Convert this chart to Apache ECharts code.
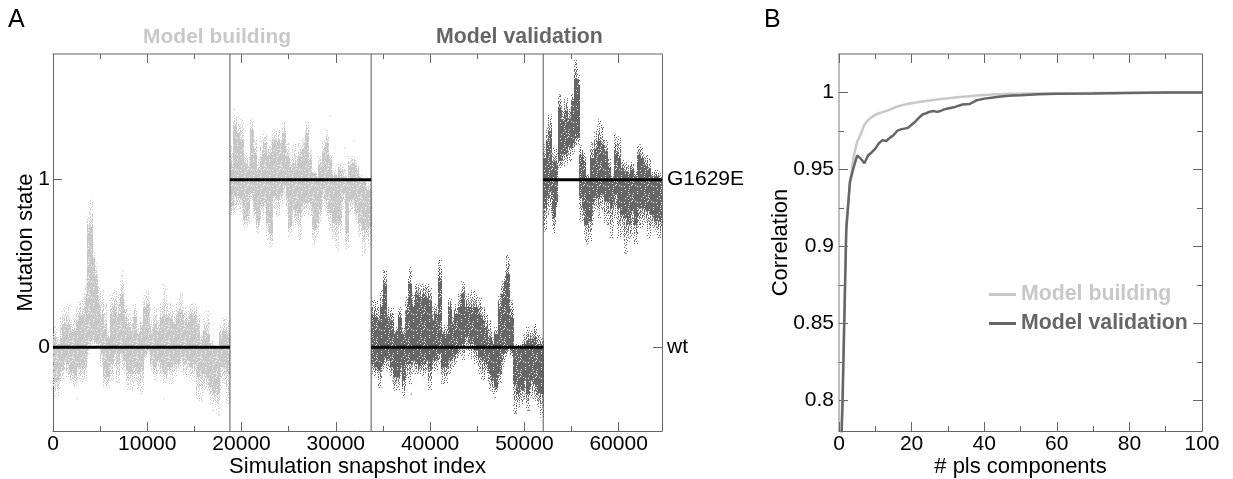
<!DOCTYPE html>
<html><head><meta charset="utf-8">
<style>html,body{margin:0;padding:0;background:#fff}#c{width:1233px;height:479px}</style>
<script src="https://cdn.jsdelivr.net/npm/echarts@6/dist/echarts.min.js"></script>
</head><body><div id="c"></div>
<script>
// [snapshot, sparse top, dense top, dense bottom, sparse bottom]
const buildWt = [[200,.13,.06,-.21,-.30],[500,.06,.02,-.20,-.30],[900,.18,.06,-.14,-.20],[1200,.24,.14,-.08,-.14],[1600,.26,.14,-.10,-.18],[1940,.16,.09,-.16,-.22],[2300,.18,.10,-.17,-.24],[2650,.24,.16,-.12,-.20],[3000,.28,.19,-.12,-.21],[3360,.32,.20,-.12,-.20],[3600,.42,.30,-.02,-.08],[3820,.79,.72,.02,0],[4030,.88,.72,.04,.02],[4240,.58,.54,.06,.02],[4490,.50,.42,.04,.01],[4770,.36,.26,.02,0],[5130,.34,.20,-.04,-.12],[5480,.26,.14,-.18,-.24],[5830,.10,.06,-.18,-.25],[6190,.32,.20,-.10,-.20],[6540,.34,.24,-.04,-.12],[6890,.32,.20,-.10,-.22],[7250,.44,.32,-.04,-.14],[7600,.28,.18,-.08,-.16],[7950,.20,.12,-.14,-.26],[8310,.18,.10,-.16,-.26],[8660,.26,.18,-.12,-.20],[9010,.14,.08,-.16,-.26],[9370,.18,.12,-.14,-.28],[9720,.32,.24,-.04,-.08],[10070,.34,.26,-.02,-.04],[10430,.16,.08,-.08,-.14],[10780,.24,.14,-.12,-.20],[11130,.18,.10,-.08,-.16],[11490,.26,.18,-.12,-.20],[11840,.37,.20,-.16,-.22],[12200,.26,.18,-.12,-.18],[12550,.26,.17,-.12,-.22],[12900,.22,.14,-.10,-.18],[13260,.26,.20,-.10,-.14],[13610,.32,.22,-.06,-.12],[13960,.24,.16,-.10,-.18],[14320,.22,.14,-.08,-.14],[14670,.26,.20,-.12,-.20],[15020,.26,.19,-.10,-.18],[15380,.20,.14,-.18,-.32],[15730,.08,.05,-.18,-.32],[16080,.18,.10,-.16,-.26],[16440,.22,.08,-.18,-.26],[16790,.04,.01,-.24,-.34],[17140,0,0,-.28,-.36],[17500,0,-.01,-.28,-.40],[17850,.14,.08,-.12,-.26],[18200,.18,.10,-.12,-.22],[18560,.16,.08,-.16,-.34]];
const buildMut = [[18950,1.20,1.10,.84,.79],[19300,1.39,1.32,.90,.80],[19650,1.34,1.28,.90,.82],[20010,1.36,1.24,.88,.80],[20360,1.16,1.10,.76,.71],[20710,1.14,1.08,.78,.72],[21070,1.36,1.30,.92,.86],[21420,1.24,1.16,.82,.76],[21770,1.12,1.06,.74,.68],[22130,1.26,1.14,.84,.76],[22480,1.28,1.22,.86,.80],[22840,1.22,1.14,.74,.64],[23120,1.24,1.16,.68,.60],[23470,1.30,1.24,.90,.82],[23830,1.30,1.24,.88,.78],[24180,1.26,1.22,.90,.84],[24530,1.35,1.28,.96,.88],[24890,1.22,1.14,.90,.78],[25170,1.12,1.06,.72,.66],[25520,1.22,1.10,.82,.72],[25880,1.18,1.10,.78,.72],[26230,1.22,1.14,.80,.64],[26580,1.26,1.18,.86,.78],[26940,1.35,1.28,.86,.80],[27290,1.18,1.12,.86,.78],[27640,1.06,1.04,.70,.60],[28000,1.04,1.02,.74,.66],[28350,1.14,1.08,.82,.74],[28700,1.24,1.16,.94,.84],[29060,1.30,1.22,.88,.78],[29410,1.16,1.12,.80,.70],[29760,1.06,1.03,.74,.64],[30120,1.04,1.02,.74,.58],[30470,1.10,1.06,.74,.68],[30820,1.10,1.02,.92,.82],[31180,1.02,1.01,.68,.58],[31530,1.14,1.08,.88,.80],[31880,1.14,1.10,.88,.80],[32240,1.10,1.06,.80,.74],[32590,1.03,1.01,.74,.66],[32940,1.0,.99,.70,.56],[33300,.98,.94,.72,.64],[33580,1.0,.94,.72,.60]];
const validWt = [[33930,.28,.20,-.10,-.16],[34280,.28,.18,-.12,-.18],[34630,.24,.16,-.14,-.24],[34920,.34,.24,-.10,-.14],[35200,.46,.38,-.06,-.12],[35550,.24,.18,-.08,-.14],[35910,.24,.16,-.12,-.18],[36260,.10,.08,-.18,-.26],[36540,.12,.10,-.18,-.26],[36830,.24,.18,-.12,-.18],[37180,.12,.08,-.20,-.30],[37530,.30,.22,-.10,-.18],[37890,.48,.38,-.10,-.22],[38240,.32,.24,-.08,-.16],[38590,.38,.32,-.10,-.16],[38950,.38,.30,-.12,-.16],[39300,.38,.32,-.10,-.18],[39650,.38,.30,-.08,-.14],[39940,.36,.28,-.14,-.26],[40290,.24,.16,-.08,-.14],[40640,.26,.20,-.08,-.14],[41000,.52,.42,-.04,-.10],[41350,.12,.08,-.12,-.22],[41700,.14,.08,-.12,-.22],[42050,.30,.24,-.08,-.16],[42410,.18,.14,-.06,-.12],[42760,.26,.20,-.04,-.10],[43110,.32,.24,0,-.06],[43470,.40,.32,.02,-.08],[43820,.32,.24,.06,-.02],[44180,.32,.24,.02,-.06],[44530,.34,.24,.02,-.08],[44880,.32,.24,-.02,-.10],[45240,.30,.20,-.06,-.16],[45590,.24,.16,-.08,-.20],[45950,.20,.12,-.10,-.16],[46300,.16,.06,-.16,-.26],[46650,.06,.01,-.20,-.28],[47010,.12,.08,-.24,-.27],[47360,.32,.24,-.16,-.22],[47710,.40,.32,-.04,-.12],[48070,.46,.40,-.02,-.06],[48280,.55,.44,0,-.02],[48640,.28,.18,-.02,-.06],[48990,0,-.01,-.22,-.40],[49340,.02,-.01,-.28,-.36],[49700,.04,0,-.26,-.34],[50050,.08,.02,-.20,-.32],[50400,.12,.04,-.28,-.38],[50760,.10,.05,-.20,-.30],[51110,.14,.06,-.22,-.32],[51460,.08,.02,-.28,-.36],[51820,.06,.01,-.28,-.42]];
const validMut = [[52180,1.21,1.13,.83,.69],[52460,1.31,1.23,.89,.79],[52740,1.39,1.29,.93,.80],[53100,1.19,1.11,.77,.68],[53380,1.19,1.09,.87,.83],[53730,1.51,1.43,1.11,1.07],[54090,1.41,1.35,1.15,1.08],[54440,1.49,1.41,1.15,1.09],[54790,1.43,1.37,1.19,1.11],[55150,1.51,1.47,1.21,1.15],[55430,1.72,1.60,1.27,1.21],[55710,1.63,1.57,1.25,1.20],[55990,1.21,1.15,.89,.75],[56280,1.17,1.11,.83,.75],[56560,1.03,1.01,.73,.62],[56910,1.03,1.01,.75,.63],[57200,1.23,1.13,.85,.73],[57550,1.29,1.19,.89,.81],[57900,1.36,1.23,.89,.77],[58260,1.33,1.21,.91,.81],[58610,1.24,1.17,.87,.73],[58960,1.13,1.07,.87,.73],[59320,1.03,1.01,.83,.65],[59670,1.27,1.17,.91,.77],[60020,1.26,1.13,.83,.65],[60380,1.12,1.07,.79,.67],[60730,1.11,1.05,.77,.56],[61090,1.09,1.03,.73,.63],[61440,1.11,1.07,.81,.65],[61790,1.05,1.02,.73,.61],[62150,1.21,1.15,.83,.71],[62500,1.19,1.13,.83,.71],[62850,1.15,1.09,.81,.73],[63210,1.13,1.07,.81,.65],[63560,1.05,1.02,.79,.71],[63910,1.06,1.02,.75,.69],[64270,1.05,1.01,.77,.65],[64480,1.02,1.01,.75,.67]];
const strayBuild = [[2550,-.306],[11670,.374],[11740,-.306],[16970,-.376],[17600,-.406],[7420,.454],[29350,1.38],[31960,1.23],[30960,1.19],[32840,.548],[30190,.578],[23050,.60],[19190,1.42]];
const strayValid = [[34630,-.24],[49060,-.39],[50470,-.376],[60770,.56],[56700,.616],[36050,-.2],[46900,-.3],[38000,-.28]];
const segments = [[[0,0],[18770,0]],[[18770,1],[33750,1]],[[33750,0],[52000,0]],[[52000,1],[64600,1]]];
const boundaries = [18770,33750,52000];
const pcs = [0,1,2,3,4,5,6,7,8,9,10,11,12,13,14,15,16,17,18,19,20,21,22,23,24,25,26,27,28,29,30,32,34,36,38,40,42,44,46,48,50,55,60,70,80,90,100];
const corrBuild = [.72,.81,.915,.94,.958,.968,.973,.979,.982,.984,.9855,.9865,.9872,.988,.9888,.9898,.9908,.9915,.9921,.9926,.993,.9934,.9938,.9941,.9944,.9948,.9951,.9954,.9957,.996,.9963,.9968,.9972,.9976,.998,.9983,.9986,.9988,.999,.9991,.9992,.9993,.9994,.9996,.9998,.9999,1];
const corrValid = [.72,.80,.91,.942,.951,.959,.957,.954,.959,.961,.9635,.967,.969,.9685,.9705,.9722,.975,.976,.9765,.977,.979,.981,.9835,.9857,.9865,.9875,.988,.9874,.988,.989,.9896,.9906,.9922,.9925,.995,.996,.9966,.9972,.9977,.998,.9982,.9988,.9991,.9993,.9997,.9999,1];
const xMajorA=[0,10000,20000,30000,40000,50000,60000], xMinorA=[5000,15000,25000,35000,45000,55000];
const yMajorA=[0,1];
const xMajorB=[0,20,40,60,80,100], xMinorB=[10,30,50,70,90];
const yMajorB=[.8,.85,.9,.95,1], yMinorB=[.825,.875,.925,.975];
const LIGHT='#c8c8c8', DARK='#666666', FONT='"Liberation Sans"';

const sparseMask=["#..#...#..#....#",".....#....#.#...","..#....#......#.","#...#.....#..#..","..#....#.#......",".#..#.......#..#","....#..#..#.....","#.....#.....#.#.","..#.#.....#.....","......#.#....#..",".#..#.......#..#","...#...#..#.....","#.....#.....#.#.","..#.#....#......",".....#.#....#..#","#.#......#.#...."];
const midMask=["#.##.#.#.##.#..#","..#..#.##.#.#.#.","#.#.#..#.#..#.#.",".#..#.#...#.##..","#.#.#..#.#.#...#",".#.##..#.#..#.##","#...#.##..#.#.#.","#.##..#.#...#.#.","..#.#.#...#.##.#","#.#...#.#.#..#.#",".#..#.#.##..#..#","#..#..##..#.#.#.","#.#.#.#.#..##.#.","..#.#..#.#.#..#.","#.#..#.#..#.#..#","#.#.#.#..#.#..#."];
const denseMask=["####.####.######","##.######.###.##","#####.######.###",".#######.#######","###.#######.####","######.#.#####.#","#.#######.######","####.#######.###","##.#####.#######","#######.###.####",".####.#######.##","###.######.#####","#####.##.#####.#","#.#######.######","####.#######.###","##.######.###.##"];
function tile(mask,color){
  const c=document.createElement('canvas');c.width=c.height=16;
  const g=c.getContext('2d');g.fillStyle=color;
  mask.forEach((r,y)=>[...r].forEach((ch,x)=>{if(ch==='#')g.fillRect(x,y,1,1);}));
  return {image:c,repeat:'repeat'};
}
function cloud(rows,color){
  const sparse=tile(sparseMask,color), mid=tile(midMask,color), dense=tile(denseMask,color);
  return {type:'custom',xAxisIndex:0,yAxisIndex:0,clip:true,z:2,silent:true,data:rows,
    encode:{x:0,y:[1,2,3,4]},
    renderItem(params,api){
      const x=api.value(0), w=api.size([354,0])[0]+.3;
      const oh=api.value(1),ch=api.value(2),cl=api.value(3),ol=api.value(4);
      const rect=(t,b,fill)=>{const p=api.coord([x,t]),q=api.coord([x,b]);
        return {type:'rect',shape:{x:Math.round(p[0]-w/2),y:p[1],width:Math.round(w),height:q[1]-p[1]},style:{fill}};};
      return {type:'group',children:[rect(oh,ol,sparse),rect((oh+ch)/2,(cl+ol)/2,mid),rect(ch,cl,dense)]};
    }};
}
function stray(pts,color){return {type:'scatter',xAxisIndex:0,yAxisIndex:0,data:pts,symbol:'rect',symbolSize:1.4,itemStyle:{color},z:3,silent:true};}
const tl=(c)=>({show:true,color:'#000',fontFamily:FONT,fontSize:21,customValues:c,margin:3,formatter:v=>String(v)});
function ax(o){return Object.assign({type:'value',splitLine:{show:false},axisLine:{show:false,onZero:false},axisTick:{show:false},axisLabel:{show:false}},o);}
const lineC='#666', topC='#999';
const nameStyle={color:'#000',fontFamily:FONT,fontSize:22};
function xAxes(g,min,max,major,minor,name){
  const a=ax({gridIndex:g,min,max,position:'bottom',axisLine:{show:true,onZero:false,lineStyle:{color:lineC,width:1}},
    axisTick:{show:true,inside:true,length:9,customValues:major,lineStyle:{color:lineC}},axisLabel:tl(major),
    name,nameLocation:'middle',nameGap:25,nameMoveOverlap:false,nameTextStyle:nameStyle});
  const b=ax({gridIndex:g,min,max,position:'bottom',axisTick:{show:true,inside:true,length:5,customValues:minor,lineStyle:{color:lineC}}});
  const c=ax({gridIndex:g,min,max,position:'top',axisLine:{show:true,onZero:false,lineStyle:{color:topC,width:1.5}},axisTick:{show:true,inside:true,length:9,customValues:major,lineStyle:{color:lineC}}});
  const d=ax({gridIndex:g,min,max,position:'top',axisTick:{show:true,inside:true,length:5,customValues:minor,lineStyle:{color:lineC}}});
  return [a,b,c,d];
}
const tly=(c)=>Object.assign(tl(c),{margin:5});
const yAxes=[
  ax({gridIndex:0,min:-.5,max:1.75,position:'left',axisLine:{show:true,onZero:false,lineStyle:{color:lineC}},axisTick:{show:true,inside:true,length:9,customValues:yMajorA,lineStyle:{color:lineC}},axisLabel:Object.assign(tl(yMajorA),{margin:3}),
    name:'Mutation state',nameLocation:'middle',nameGap:16,nameMoveOverlap:false,nameTextStyle:nameStyle}),
  ax({gridIndex:0,min:-.5,max:1.75,position:'right',axisLine:{show:true,onZero:false,lineStyle:{color:lineC}},axisTick:{show:true,inside:true,length:9,customValues:yMajorA,lineStyle:{color:lineC}},
    axisLabel:Object.assign(tly(yMajorA),{formatter:v=>v===0?'wt':'G1629E'})}),
  ax({gridIndex:1,min:.78,max:1.025,position:'left',axisLine:{show:true,onZero:false,lineStyle:{color:'#aaa',width:1.5}},axisTick:{show:true,inside:true,length:9,customValues:yMajorB,lineStyle:{color:lineC}},
    axisLabel:Object.assign(tly(yMajorB),{formatter:v=>String(+v.toFixed(2))}),
    name:'Correlation',nameLocation:'middle',nameGap:47,nameMoveOverlap:false,nameTextStyle:nameStyle}),
  ax({gridIndex:1,min:.78,max:1.025,position:'left',axisTick:{show:true,inside:true,length:5,customValues:yMinorB,lineStyle:{color:lineC}}}),
  ax({gridIndex:1,min:.78,max:1.025,position:'right',axisLine:{show:true,onZero:false,lineStyle:{color:lineC}},axisTick:{show:true,inside:true,length:9,customValues:yMajorB,lineStyle:{color:lineC}}}),
  ax({gridIndex:1,min:.78,max:1.025,position:'right',axisTick:{show:true,inside:true,length:5,customValues:yMinorB,lineStyle:{color:lineC}}})
];
const refLine=(pts,color,w,z)=>({type:'line',xAxisIndex:0,yAxisIndex:0,data:pts,symbol:'none',lineStyle:{color,width:w},z,silent:true,animation:false});
const zip=(xs,ys)=>xs.map((x,i)=>[x,ys[i]]);
const series=[
  cloud(buildWt,LIGHT),cloud(buildMut,LIGHT),cloud(validWt,DARK),cloud(validMut,DARK),
  stray(strayBuild,LIGHT),stray(strayValid,DARK),
  ...boundaries.map(b=>refLine([[b,-.5],[b,1.75]],'#555',1,4)),
  ...segments.map(s=>refLine(s,'#000',3,5)),
  {name:'Model building',type:'line',xAxisIndex:4,yAxisIndex:2,data:zip(pcs,corrBuild),symbol:'none',clip:true,lineStyle:{color:LIGHT,width:2.5},itemStyle:{color:LIGHT},z:3},
  {name:'Model validation',type:'line',xAxisIndex:4,yAxisIndex:2,data:zip(pcs,corrValid),symbol:'none',clip:true,lineStyle:{color:DARK,width:2.5},itemStyle:{color:DARK},z:4}
];
const chart=echarts.init(document.getElementById('c'),null,{renderer:'canvas'});
chart.setOption({animation:false,backgroundColor:'#fff',
  grid:[{left:53,top:54,width:609,height:377,outerBoundsMode:'none'},{left:839,top:54,width:363,height:377,outerBoundsMode:'none'}],
  xAxis:[...xAxes(0,0,64600,xMajorA,xMinorA,'Simulation snapshot index'),...xAxes(1,0,100,xMajorB,xMinorB,'# pls components')],
  yAxis:yAxes,
  title:[
    {text:'A',left:3,top:3,textStyle:{fontFamily:FONT,fontWeight:'normal',fontSize:25,color:'#000'}},
    {text:'B',left:759,top:3,textStyle:{fontFamily:FONT,fontWeight:'normal',fontSize:25,color:'#000'}},
    {text:'Model building',left:138,top:22,textStyle:{fontFamily:FONT,fontWeight:'bold',fontSize:21,color:LIGHT}},
    {text:'Model validation',left:431,top:22,textStyle:{fontFamily:FONT,fontWeight:'bold',fontSize:21.3,color:DARK}}
  ],
  legend:{orient:'vertical',left:984,top:279,itemWidth:27,itemHeight:3,itemGap:8,icon:'rect',
    data:[{name:'Model building',textStyle:{color:LIGHT}},{name:'Model validation',textStyle:{color:DARK}}],
    textStyle:{fontFamily:FONT,fontWeight:'bold',fontSize:21.3},selectedMode:false},
  series});
</script></body></html>
